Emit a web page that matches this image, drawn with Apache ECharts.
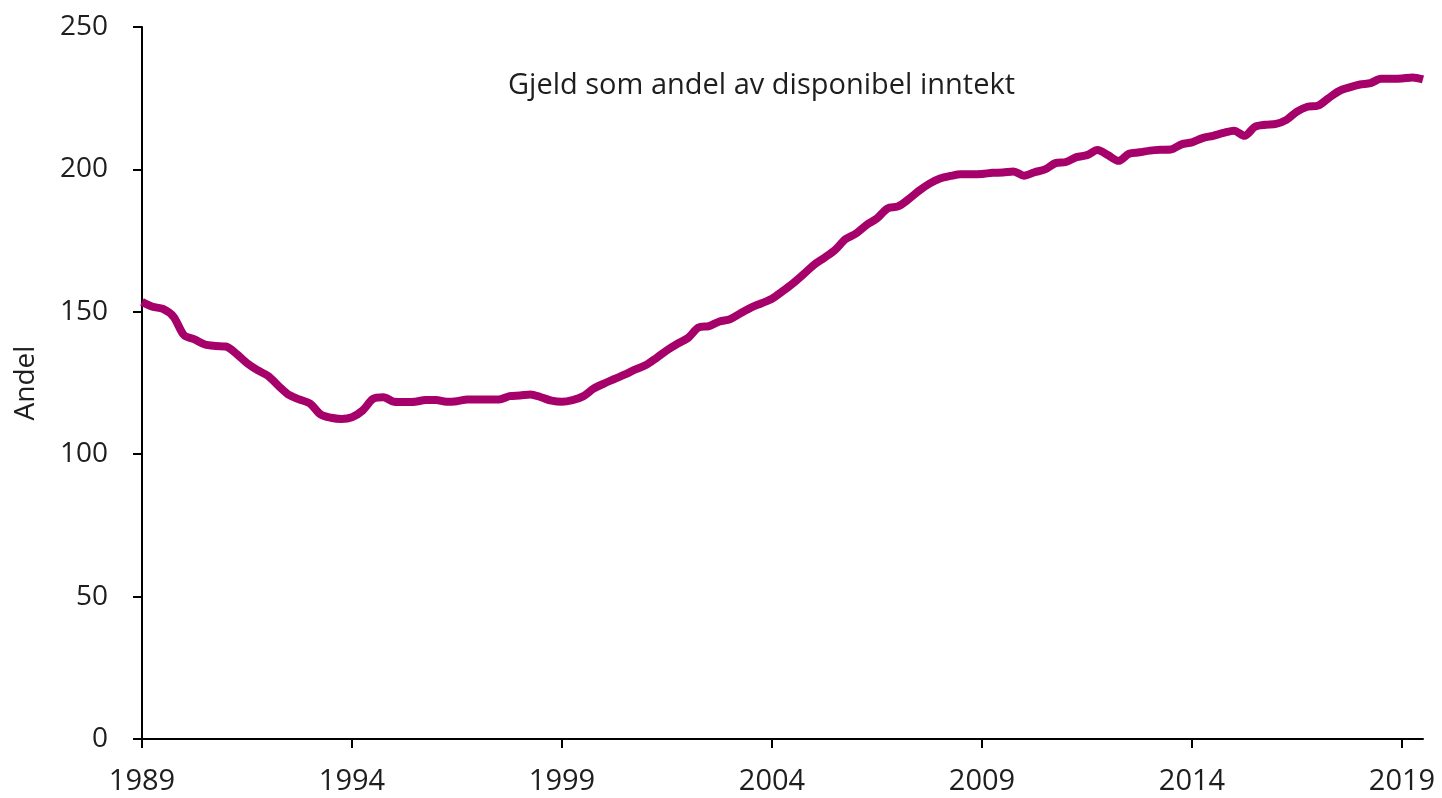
<!DOCTYPE html>
<html>
<head>
<meta charset="utf-8">
<script src="https://cdn.jsdelivr.net/npm/echarts@6/dist/echarts.min.js"></script>
<style>
html,body{margin:0;padding:0;background:#fff;}
#chartLine{width:1442px;height:798px;}
</style>
</head>
<body>
<div id="chartLine"></div>
<script>
// kvartaler fra 1989K1 til 2019K3
var startYear = 1989;
var quarterCount = 123;
var yTicks = [0, 50, 100, 150, 200, 250];
var seriesName = 'Gjeld som andel av disponibel inntekt';
var andel = [
    153.5, 151.8, 151, 148.3, 141.8, 140.3, 138.5, 138, 137.8, 135.2,
    132, 129.5, 127.5, 124, 120.8, 119.2, 117.8, 114, 112.8, 112.4,
    113, 115.3, 119.4, 120, 118.4, 118.3, 118.4, 119, 119, 118.4,
    118.6, 119.2, 119.2, 119.2, 119.2, 120.4, 120.6, 121, 120, 118.8,
    118.4, 119, 120.3, 123, 124.8, 126.4, 128, 129.8, 131.3, 133.8,
    136.5, 138.8, 140.8, 144.5, 145, 146.6, 147.4, 149.5, 151.5, 153,
    154.6, 157.2, 160, 163.2, 166.5, 169, 171.7, 175.5, 177.5, 180.5,
    182.8, 186.3, 187, 189.5, 192.5, 195, 196.8, 197.7, 198.3, 198.3,
    198.4, 198.8, 198.9, 199.3, 197.8, 199, 200, 202.2, 202.6, 204.3,
    205, 206.8, 205, 203, 205.5, 206, 206.6, 206.9, 207, 208.8,
    209.5, 211, 211.8, 212.8, 213.6, 211.8, 215, 215.7, 216, 217.4,
    220.3, 222, 222.4, 225, 227.5, 228.8, 229.8, 230.3, 231.8, 231.8,
    231.9, 232.3, 231.6
];

var kvartaler = [];
for (var i = 0; i < quarterCount; i++) {
    kvartaler.push(String(startYear + Math.floor(i / 4)) + 'K' + (i % 4 + 1));
}

var myChart = echarts.init(document.getElementById('chartLine'));
var option = {
    backgroundColor: '#fff',
    animation: false,
    textStyle: { fontFamily: 'Open Sans' },
    title: {
        text: seriesName,
        left: 503,
        top: 66,
        textStyle: { color: '#1e1e1e', fontSize: 29, fontWeight: 'normal', fontFamily: 'Open Sans' }
    },
    grid: { left: 142, right: 19, top: 27, bottom: 59 },
    xAxis: [{
        type: 'category',
        boundaryGap: false,
        data: kvartaler,
        axisLine: { show: true, lineStyle: { color: '#000', width: 2 } },
        axisTick: {
            show: true,
            inside: false,
            length: 9,
            lineStyle: { color: '#000', width: 2 },
            interval: function (idx) { return idx % 20 === 0; }
        },
        axisLabel: {
            color: '#1e1e1e',
            fontSize: 29,
            margin: 28,
            interval: function (idx) { return idx % 20 === 0; },
            formatter: function (v) { return v.slice(0, 4); }
        },
        splitLine: { show: false }
    }],
    yAxis: [{
        type: 'value',
        min: yTicks[0],
        max: yTicks[yTicks.length - 1],
        interval: yTicks[1] - yTicks[0],
        name: 'Andel',
        nameLocation: 'middle',
        nameGap: 102,
        nameTextStyle: { color: '#1e1e1e', fontSize: 28 },
        axisLine: { show: true, lineStyle: { color: '#000', width: 2 } },
        axisTick: { show: true, length: 9, lineStyle: { color: '#000', width: 2 } },
        axisLabel: { color: '#1e1e1e', fontSize: 28, margin: 34 },
        splitLine: { show: false }
    }],
    series: [{
        name: seriesName,
        type: 'line',
        data: andel,
        symbol: 'none',
        smooth: 0.3,
        lineStyle: { color: '#A6006B', width: 8 },
        z: 1
    }]
};
myChart.setOption(option);
</script>
</body>
</html>
